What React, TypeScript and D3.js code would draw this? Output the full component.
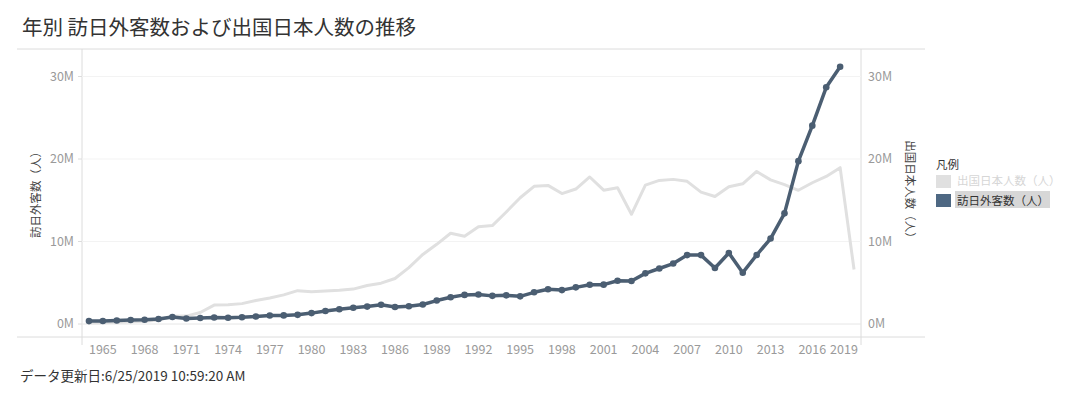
import * as d3 from "d3";

const years = d3.range(1964, 2020);

// 訪日外客数 (millions), 1964-2018
const visitors = [
  0.35, 0.37, 0.43, 0.48, 0.52, 0.61, 0.85, 0.66, 0.72, 0.78, 0.76, 0.81, 0.91, 1.03,
  1.04, 1.11, 1.32, 1.58, 1.79, 1.97, 2.11, 2.33, 2.06, 2.15, 2.36, 2.84, 3.24, 3.53,
  3.58, 3.41, 3.47, 3.35, 3.84, 4.22, 4.11, 4.44, 4.76, 4.77, 5.24, 5.21, 6.14, 6.73,
  7.33, 8.35, 8.35, 6.79, 8.61, 6.22, 8.36, 10.36, 13.41, 19.74, 24.04, 28.69, 31.19,
];

// 出国日本人数 (millions), 1964-2019
const outbound = [
  0.13, 0.16, 0.21, 0.27, 0.34, 0.49, 0.94, 0.96, 1.39, 2.29, 2.34, 2.47, 2.85, 3.15,
  3.53, 4.04, 3.91, 4.01, 4.09, 4.23, 4.66, 4.95, 5.52, 6.83, 8.43, 9.66, 11.0, 10.63,
  11.79, 11.93, 13.58, 15.3, 16.69, 16.8, 15.81, 16.36, 17.82, 16.22, 16.52, 13.3,
  16.83, 17.4, 17.53, 17.29, 15.99, 15.45, 16.64, 16.99, 18.49, 17.47, 16.9, 16.21,
  17.12, 17.89, 18.95, 6.6,
];

const yTicks = [0, 10, 20, 30];
const xTickYears = d3.range(1965, 2020, 3);

const FONT = "'Noto Sans CJK JP', 'Noto Sans', sans-serif";
const dark = "#4b5e72";
const light = "#e0e0e0";
const axisGray = "#9a9a9a";
const border = "#dcdcdc";

export default function App() {
  const left = 82;
  const right = 861;
  const top = 49;
  const bottom = 337;

  const x = d3.scalePoint<number>().domain(years).range([left, right]).padding(0.5);
  const y = d3.scaleLinear().domain([0, 30]).range([324, 76.5]);

  const line = d3
    .line<[number, number]>()
    .x((d) => x(d[0]) ?? 0)
    .y((d) => y(d[1]));

  const visPts: [number, number][] = visitors.map((v, i) => [years[i], v]);
  const outPts: [number, number][] = outbound.map((v, i) => [years[i], v]);

  // Tableau nudges the last label so it stays inside the pane
  const labelX = (yr: number) => Math.min(x(yr) ?? 0, right - 17);

  return (
    <svg width={1064} height={385} style={{ display: "block", fontFamily: FONT }}>
      <g transform="translate(-8,-8)">
        <rect x={0} y={0} width={1080} height={393} fill="#fff" />
        <text x={22} y={35} fontSize={20.5} fill="#333">
          年別 訪日外客数および出国日本人数の推移
        </text>

        {/* frame */}
        <line x1={17} x2={925} y1={top} y2={top} stroke={border} />
        <line x1={17} x2={925} y1={bottom} y2={bottom} stroke={border} />
        <line x1={left} x2={left} y1={top} y2={bottom + 8} stroke={border} />
        <line x1={right} x2={right} y1={top} y2={bottom + 8} stroke={border} />

        {yTicks.map((t) => (
          <g key={t}>
            <line x1={left} x2={right} y1={y(t)} y2={y(t)} stroke={t === 0 ? "#e6e6e6" : "#f3f3f3"} />
            <line x1={left - 4} x2={left} y1={y(t)} y2={y(t)} stroke={border} />
            <text x={74} y={y(t)} dy="0.35em" textAnchor="end" fontSize={12.5} fill={axisGray}>
              {t}M
            </text>
            <text x={868} y={y(t)} dy="0.35em" fontSize={12.5} fill={axisGray}>
              {t}M
            </text>
          </g>
        ))}

        {xTickYears.map((yr) => (
          <text key={yr} x={labelX(yr)} y={354} textAnchor="middle" fontSize={12.5} fill={axisGray}>
            {yr}
          </text>
        ))}

        <text transform="translate(40,192) rotate(-90)" textAnchor="middle" fontSize={11.5} fill="#444">
          訪日外客数（人）
        </text>
        <text transform="translate(906,192) rotate(90)" textAnchor="middle" fontSize={11.5} fill="#444">
          出国日本人数（人）
        </text>

        <path d={line(outPts) ?? ""} fill="none" stroke={light} strokeWidth={3} strokeLinejoin="round" />
        <path d={line(visPts) ?? ""} fill="none" stroke={dark} strokeWidth={3.5} strokeLinejoin="round" />
        {visPts.map((d) => (
          <circle key={d[0]} cx={x(d[0])} cy={y(d[1])} r={3.3} fill={dark} />
        ))}

        {/* legend */}
        <text x={936} y={169} fontSize={11.5} fill="#333">
          凡例
        </text>
        <rect x={936} y={175} width={15} height={13} fill={light} />
        <text x={957} y={185} fontSize={11.5} fill="#d6d6d6">
          出国日本人数（人）
        </text>
        <rect x={955} y={191} width={95} height={17} fill="#d7d7d7" />
        <rect x={936} y={194} width={15} height={13} fill="#4e6883" />
        <text x={957} y={204.5} fontSize={11.5} fill="#333">
          訪日外客数（人）
        </text>

        <text x={20} y={381} fontSize={13.5} fill="#333">
          データ更新日:6/25/2019 10:59:20 AM
        </text>
      </g>
    </svg>
  );
}
